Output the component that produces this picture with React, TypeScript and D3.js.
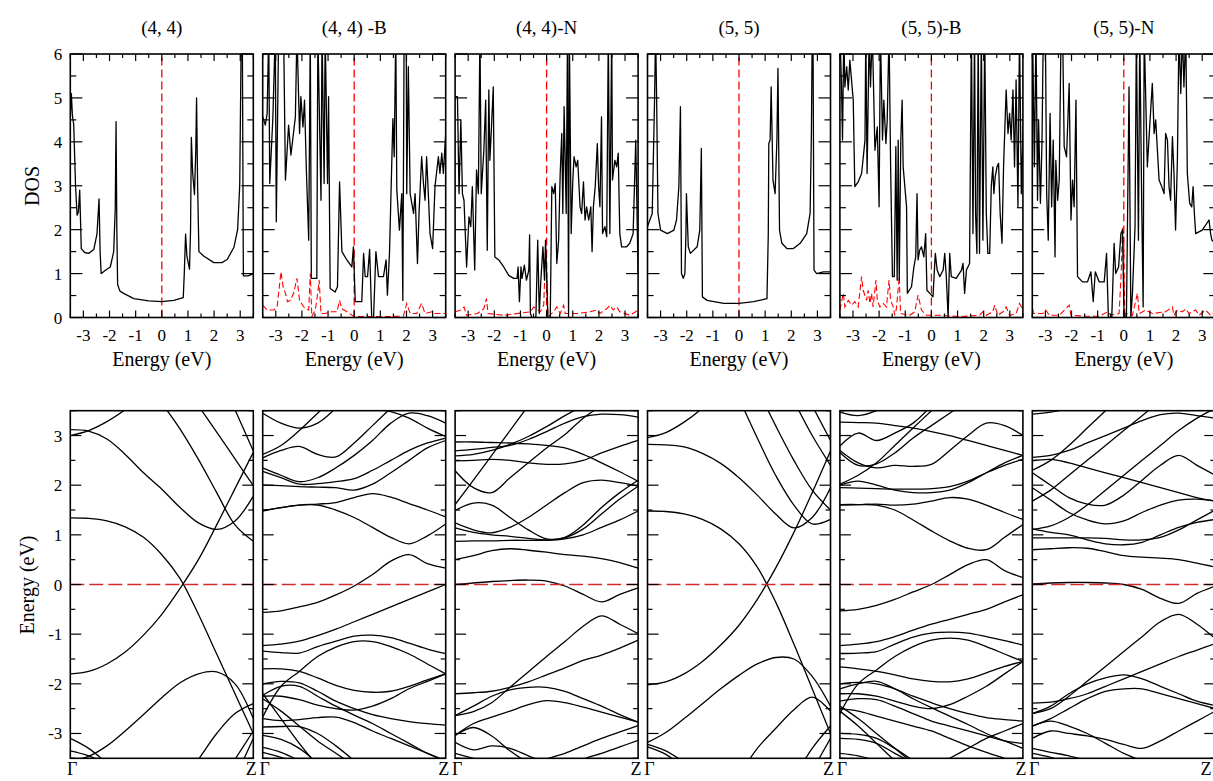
import React from 'react';
import * as d3 from 'd3';

// ---------- labels ----------
const titles = ['(4, 4)', '(4, 4) -B', '(4, 4)-N', '(5, 5)', '(5, 5)-B', '(5, 5)-N'];
const dosXTicks = [-3, -2, -1, 0, 1, 2, 3];
const dosYTicks = [0, 1, 2, 3, 4, 5, 6];
const bandYTicks = [-3, -2, -1, 0, 1, 2, 3];

// ---------- DOS data: [energy (eV), DOS] ----------
const dos44: number[][] = [
  [-3.5, 4.57], [-3.46, 5.1], [-3.42, 4.6], [-3.37, 4.4], [-3.3, 3.0], [-3.24, 2.33], [-3.19, 2.4], [-3.14, 2.9],
  [-3.08, 1.57], [-2.95, 1.48], [-2.8, 1.46], [-2.6, 1.55], [-2.48, 1.9], [-2.4, 2.7], [-2.36, 1.5], [-2.32, 1.0],
  [-2.1, 1.1], [-1.97, 1.15], [-1.84, 1.5], [-1.78, 2.5], [-1.75, 4.46], [-1.72, 2.0], [-1.69, 0.75], [-1.6, 0.6],
  [-1.46, 0.55], [-1.07, 0.43], [-0.5, 0.38], [0, 0.36], [0.46, 0.39], [0.82, 0.45], [0.86, 1.0], [0.91, 1.9],
  [0.96, 1.4], [1.06, 1.1], [1.1, 2.0], [1.13, 4.1], [1.18, 3.3], [1.25, 2.8], [1.3, 3.8], [1.33, 5.0], [1.37, 3.0],
  [1.42, 1.5], [1.6, 1.4], [1.99, 1.25], [2.3, 1.25], [2.5, 1.32], [2.76, 1.6], [2.9, 2.0], [2.98, 3.0], [3.04, 6.5],
  [3.08, 6.5], [3.12, 0.95], [3.3, 0.95], [3.5, 1.0],
];
const dos44B: number[][] = [
  [-3.5, 4.57], [-3.4, 4.38], [-3.33, 4.65], [-3.27, 6.5], [-3.23, 3.05], [-3.11, 4.57], [-3.02, 6.5], [-2.98, 2.18],
  [-2.89, 6.5], [-2.7, 6.5], [-2.63, 3.13], [-2.51, 4.38], [-2.42, 3.7], [-2.25, 4.57], [-2.19, 6.5], [-2.09, 4.19],
  [-2.04, 5.03], [-1.96, 4.34], [-1.9, 4.95], [-1.83, 3.36], [-1.74, 1.76], [-1.68, 6.5], [-1.64, 0.89], [-1.43, 0.89],
  [-1.39, 6.5], [-1.27, 2.67], [-1.23, 6.5], [-1.15, 3.05], [-1.11, 6.5], [-1.02, 3.05], [-0.98, 5.03], [-0.92, 0.66],
  [-0.73, 0.58], [-0.64, 0.7], [-0.56, 3.09], [-0.47, 1.5], [-0.28, 1.31], [-0.09, 1.15], [-0.03, 1.61], [0.04, 0.36],
  [0.29, 0.36], [0.36, 1.46], [0.42, 0.93], [0.51, 0.93], [0.59, 1.55], [0.67, 0], [0.74, 0], [0.83, 1.5], [0.93, 0.93],
  [1.12, 0.93], [1.22, 1.31], [1.27, 0.51], [1.35, 1.46], [1.48, 4.53], [1.53, 3.66], [1.59, 6.5], [1.63, 2.9],
  [1.73, 1.99], [1.82, 2.82], [1.86, 0.39], [1.91, 6.5], [1.99, 6.5], [2.01, 2.82], [2.07, 5.71], [2.14, 2.82],
  [2.27, 2.37], [2.33, 2.82], [2.42, 1.23], [2.48, 2.37], [2.58, 3.66], [2.65, 3.05], [2.71, 2.67], [2.77, 3.66],
  [2.84, 2.75], [2.9, 1.91], [3.0, 1.57], [3.09, 2.98], [3.22, 3.66], [3.28, 3.28], [3.35, 3.74], [3.41, 3.28], [3.5, 4.19],
];
const pdos44B: number[][] = [
  [-3.5, 0.28], [-3.33, 0.17], [-3.08, 0.17], [-2.95, 0.24], [-2.8, 1.04], [-2.72, 0.7], [-2.63, 0.55], [-2.55, 0.36],
  [-2.44, 0.39], [-2.32, 0.55], [-2.19, 0.89], [-2.09, 0.39], [-1.93, 0.24], [-1.74, 0.17], [-1.68, 1.0], [-1.62, 0.02],
  [-1.49, 0.17], [-1.43, 0.39], [-1.34, 0.85], [-1.27, 0.09], [-1.11, 0.09], [-0.92, 0.13], [-0.66, 0.13], [-0.56, 0.39],
  [-0.47, 0.2], [-0.28, 0.13], [0, 0.02], [1.12, 0.02], [1.88, 0.03], [2.01, 0.32], [2.14, 0.09], [2.39, 0.09],
  [2.58, 0.32], [2.71, 0.09], [2.97, 0.13], [3.09, 0.09], [3.28, 0.09], [3.5, 0.09],
];
const dos44N: number[][] = [
  [-3.5, 5.03], [-3.41, 5.03], [-3.35, 2.82], [-3.28, 4.5], [-3.22, 2.82], [-3.16, 2.67], [-3.06, 1.15], [-2.97, 2.29],
  [-2.9, 2.07], [-2.84, 2.98], [-2.75, 1.08], [-2.68, 3.36], [-2.61, 2.82], [-2.55, 6.5], [-2.5, 2.82], [-2.4, 3.81],
  [-2.33, 4.95], [-2.27, 1.53], [-2.21, 5.18], [-2.17, 3.58], [-2.12, 4.19], [-2.04, 5.25], [-1.98, 1.38], [-1.83, 1.31],
  [-1.64, 1.15], [-1.45, 0.96], [-1.26, 0.89], [-1.13, 0.89], [-1.09, 1.15], [-1.04, 0.36], [-0.98, 1.15], [-0.94, 0.89],
  [-0.85, 1.19], [-0.77, 0.85], [-0.68, 1.08], [-0.65, 1.88], [-0.62, 0.09], [-0.56, 0], [-0.41, 0], [-0.34, 1.76],
  [-0.28, 0.09], [-0.22, 0.85], [-0.14, 1.61], [-0.08, 0.85], [-0.04, 1.76], [0, 1.0], [0.05, 0], [0.14, 0], [0.2, 2.98],
  [0.27, 2.82], [0.33, 3.05], [0.39, 1.23], [0.46, 1.76], [0.52, 3.28], [0.58, 4.19], [0.62, 2.37], [0.67, 4.8],
  [0.75, 2.37], [0.8, 6.5], [0.84, 0], [0.87, 6.5], [0.94, 1.91], [1.0, 3.09], [1.05, 3.66], [1.13, 3.43], [1.19, 3.58],
  [1.28, 2.52], [1.34, 2.37], [1.41, 3.09], [1.47, 2.22], [1.53, 2.52], [1.61, 2.22], [1.69, 2.52], [1.74, 1.5],
  [1.79, 2.52], [1.86, 2.98], [1.94, 3.96], [1.99, 2.98], [2.04, 2.52], [2.1, 4.57], [2.14, 1.91], [2.23, 2.07],
  [2.3, 1.84], [2.36, 6.5], [2.42, 1.91], [2.49, 6.5], [2.52, 3.13], [2.61, 3.58], [2.68, 3.43], [2.74, 3.74],
  [2.8, 1.91], [2.87, 1.61], [3.06, 1.61], [3.18, 1.69], [3.31, 1.91], [3.41, 4.04], [3.5, 1.0],
];
const pdos44N: number[][] = [
  [-3.5, 0.13], [-3.28, 0.17], [-3.16, 0.24], [-3.06, 0.05], [-2.65, 0.09], [-2.4, 0.2], [-2.3, 0.43], [-2.24, 0.09],
  [-1.64, 0.05], [-0.62, 0.13], [-0.49, 0.24], [-0.24, 0.13], [-0.11, 0.28], [-0.05, 1.31], [-0.01, 1.46], [0.05, 0.02],
  [0.27, 0.13], [0.39, 0.24], [0.52, 0.09], [0.65, 0.28], [0.71, 0.09], [1.15, 0.09], [1.66, 0.13], [1.91, 0.17],
  [2.04, 0.09], [2.3, 0.2], [2.42, 0.28], [2.55, 0.17], [2.68, 0.24], [2.8, 0.13], [3.18, 0.05], [3.41, 0.13], [3.5, 0.2],
];
const dos55: number[][] = [
  [-3.5, 2.07], [-3.32, 2.37], [-3.23, 4.95], [-3.19, 6.5], [-3.15, 4.95], [-3.1, 2.37], [-3.0, 1.99], [-2.74, 1.91],
  [-2.49, 1.99], [-2.39, 2.22], [-2.3, 2.98], [-2.24, 4.8], [-2.2, 1.0], [-2.13, 0.89], [-2.07, 1.0], [-2.03, 1.91],
  [-2.01, 2.82], [-1.94, 1.61], [-1.86, 1.46], [-1.6, 1.61], [-1.5, 1.99], [-1.44, 3.85], [-1.4, 0.47], [-1.22, 0.39],
  [-0.58, 0.32], [0, 0.32], [0.56, 0.36], [1.07, 0.43], [1.12, 1.9], [1.14, 3.96], [1.19, 4.04], [1.23, 5.25],
  [1.3, 3.13], [1.38, 2.82], [1.45, 4.04], [1.49, 5.67], [1.55, 1.99], [1.64, 1.69], [1.83, 1.57], [2.08, 1.57],
  [2.34, 1.69], [2.59, 1.91], [2.72, 2.37], [2.77, 4.2], [2.8, 6.5], [2.83, 6.5], [2.87, 1.08], [2.97, 1.0],
  [3.23, 1.04], [3.5, 1.04],
];
const dos55B: number[][] = [
  [-3.5, 6.5], [-3.44, 5.33], [-3.4, 4.04], [-3.35, 6.5], [-3.31, 5.25], [-3.24, 5.71], [-3.18, 5.18], [-3.12, 5.86],
  [-2.99, 4.95], [-2.93, 2.98], [-2.8, 3.09], [-2.67, 3.28], [-2.54, 4.04], [-2.51, 6.5], [-2.46, 3.28], [-2.38, 6.5],
  [-2.33, 5.25], [-2.26, 6.5], [-2.16, 3.81], [-2.07, 4.34], [-2.0, 2.52], [-1.95, 6.5], [-1.87, 4.04], [-1.82, 4.95],
  [-1.74, 3.96], [-1.69, 4.5], [-1.62, 6.5], [-1.56, 3.43], [-1.49, 0.93], [-1.42, 0.93], [-1.36, 3.89], [-1.31, 0.85],
  [-1.27, 4.04], [-1.23, 0.85], [-1.17, 4.04], [-1.12, 4.95], [-1.08, 3.43], [-0.95, 2.52], [-0.92, 0.55], [-0.76, 0.7],
  [-0.67, 1.15], [-0.6, 1.38], [-0.55, 2.82], [-0.51, 1.31], [-0.45, 1.53], [-0.38, 1.61], [-0.29, 1.38], [-0.22, 1.91],
  [-0.17, 0.62], [-0.06, 0.55], [0.06, 0.47], [0.15, 1.46], [0.22, 1.08], [0.32, 0.93], [0.45, 1.08], [0.51, 1.46],
  [0.57, 0.93], [0.64, 0], [0.7, 1.46], [0.76, 0.93], [0.95, 0.89], [1.15, 1.08], [1.21, 1.23], [1.27, 0.55],
  [1.34, 1.08], [1.46, 1.23], [1.53, 6.5], [1.59, 1.91], [1.65, 6.5], [1.69, 2.37], [1.74, 1.46], [1.79, 6.5],
  [1.84, 1.46], [1.91, 6.5], [1.97, 1.76], [2.04, 6.5], [2.1, 2.37], [2.16, 1.46], [2.23, 1.46], [2.29, 2.98],
  [2.35, 3.43], [2.39, 2.82], [2.44, 3.2], [2.51, 3.43], [2.57, 3.51], [2.63, 2.37], [2.7, 1.69], [2.76, 3.43],
  [2.86, 5.18], [2.93, 4.19], [2.99, 4.65], [3.05, 4.04], [3.12, 5.18], [3.18, 3.43], [3.24, 5.41], [3.31, 2.52],
  [3.37, 6.5], [3.44, 2.82], [3.5, 4.19],
];
const pdos55B: number[][] = [
  [-3.5, 0.17], [-3.37, 0.55], [-3.31, 0.24], [-3.18, 0.39], [-3.05, 0.28], [-2.93, 0.36], [-2.8, 0.24], [-2.67, 0.93],
  [-2.61, 0.62], [-2.48, 0.39], [-2.42, 0.62], [-2.35, 0.32], [-2.29, 0.55], [-2.23, 0.24], [-2.12, 0.85], [-2.07, 0.39],
  [-1.97, 0.24], [-1.84, 0.32], [-1.72, 0.24], [-1.62, 0.85], [-1.56, 0.39], [-1.46, 0.24], [-1.4, 0.05], [-1.34, 0.2],
  [-1.23, 0.93], [-1.18, 0.09], [-0.83, 0.05], [-0.64, 0.13], [-0.51, 0.51], [-0.38, 0.17], [-0.19, 0.05], [0.32, 0.05],
  [1.08, 0.02], [1.84, 0.05], [1.97, 0.13], [2.1, 0.05], [2.35, 0.13], [2.42, 0.28], [2.54, 0.05], [2.74, 0.13],
  [2.86, 0.24], [2.99, 0.05], [3.24, 0.09], [3.37, 0.32], [3.5, 0.17],
];
const dos55N: number[][] = [
  [-3.52, 3.43], [-3.49, 6.5], [-3.42, 3.43], [-3.36, 6.5], [-3.3, 2.67], [-3.26, 4.5], [-3.19, 2.6], [-3.13, 3.96],
  [-3.08, 6.5], [-3.0, 6.5], [-2.95, 2.82], [-2.89, 1.76], [-2.82, 4.65], [-2.76, 2.52], [-2.7, 4.04], [-2.63, 1.38],
  [-2.6, 3.58], [-2.53, 2.67], [-2.47, 3.13], [-2.4, 6.5], [-2.34, 6.5], [-2.28, 3.89], [-2.19, 3.66], [-2.09, 5.33],
  [-2.02, 2.22], [-1.96, 3.13], [-1.9, 2.52], [-1.83, 4.95], [-1.77, 0.93], [-1.58, 0.81], [-1.39, 0.81], [-1.26, 1.04],
  [-1.17, 0.36], [-1.09, 1.04], [-0.94, 0.81], [-0.75, 0.81], [-0.66, 1.46], [-0.59, 0], [-0.46, 0], [-0.37, 1.69],
  [-0.31, 1.0], [-0.2, 1.15], [-0.11, 1.91], [-0.05, 1.99], [0.01, 0], [0.1, 0], [0.2, 5.25], [0.27, 0], [0.33, 0.55],
  [0.43, 2.07], [0.48, 6.5], [0.56, 1.76], [0.61, 6.5], [0.69, 2.37], [0.74, 0.24], [0.78, 6.5], [0.9, 3.43],
  [0.99, 4.34], [1.09, 5.33], [1.16, 4.19], [1.22, 4.5], [1.35, 3.13], [1.45, 2.98], [1.54, 2.82], [1.6, 4.19],
  [1.67, 4.04], [1.73, 2.98], [1.79, 2.67], [1.86, 4.12], [1.92, 3.28], [1.98, 1.99], [2.05, 3.58], [2.11, 6.5],
  [2.18, 5.1], [2.24, 6.5], [2.3, 5.25], [2.37, 6.5], [2.43, 3.28], [2.52, 2.6], [2.6, 2.52], [2.65, 2.98],
  [2.7, 2.37], [2.75, 1.91], [3.0, 1.99], [3.26, 2.22], [3.32, 1.91], [3.37, 1.76], [3.5, 1.7],
];
const pdos55N: number[][] = [
  [-3.52, 0.39], [-3.46, 0.09], [-3.1, 0.09], [-2.98, 0.17], [-2.85, 0.05], [-2.47, 0.05], [-2.09, 0.28], [-2.02, 0.05],
  [-1.45, 0.03], [-0.94, 0.03], [-0.62, 0.13], [-0.5, 0.05], [-0.18, 0.09], [-0.1, 1.0], [-0.05, 2.07], [-0.01, 1.91],
  [0.04, 0], [0.08, 0.09], [0.33, 0.05], [0.52, 0.55], [0.59, 0.09], [0.84, 0.17], [1.09, 0.09], [1.6, 0.13],
  [1.86, 0.24], [1.92, 0.05], [2.05, 0.17], [2.24, 0.13], [2.37, 0.2], [2.49, 0.09], [2.62, 0.13], [2.75, 0.17],
  [2.88, 0.05], [3.13, 0.17], [3.32, 0.05], [3.5, 0.13],
];

const dosTotals = [dos44, dos44B, dos44N, dos55, dos55B, dos55N];
const dosPartials: (number[][] | null)[] = [null, pdos44B, pdos44N, null, pdos55B, pdos55N];

// ---------- band data: energies (eV) at k = 0, 0.1, ..., 1 (Γ -> Z); null = not drawn ----------
type B = (number | null)[];
const N = null;
const bands44: B[] = [
  [3.0, 3.1, 3.28, 3.52, 3.8],
  [3.12, 3.09, 2.93, 2.62, 2.25, 1.92, 1.55, 1.24, 1.11, 1.28, 1.78],
  [N, N, N, N, N, 3.65, 3.13, 2.52, 1.85, 1.2, 0.87],
  [N, N, N, N, N, N, N, 3.6, 3.07, 2.53, 1.99],
  [N, N, N, N, N, N, N, N, 4.35, 3.52, 2.69],
  [-1.8, -1.75, -1.6, -1.36, -1.02, -0.6, -0.08, 0.5, 1.2, 1.93, 2.66],
  [1.34, 1.33, 1.28, 1.16, 0.95, 0.6, 0.12, -0.6, -1.4, -2.2, -3.0],
  [-3.55, -3.46, -3.25, -2.95, -2.62, -2.28, -1.98, -1.8, -1.76, -2.0, -2.7],
  [N, N, N, N, N, N, -4.0, -3.52, -3.0, -2.6, -2.4],
  [N, N, N, N, N, N, N, N, -4.1, -3.52, -2.95],
  [N, N, N, N, N, N, N, N, N, -3.9, -3.1],
  [-3.1, -3.3, -3.6],
  [-3.35, -3.45, -3.62],
];
const bands44B: B[] = [
  [-0.56, -0.53, -0.45, -0.36, -0.21, -0.03, 0.2, 0.47, 0.6, 0.42, 0.33],
  [1.49, 1.55, 1.6, 1.6, 1.5, 1.35, 1.15, 0.95, 0.82, 0.98, 1.22],
  [1.48, 1.55, 1.6, 1.62, 1.65, 1.75, 1.83, 1.76, 1.63, 1.5, 1.36],
  [3.45, 3.25, 3.15, 3.25, 3.55, 3.9],
  [2.62, 2.8, 3.1, 3.45, 3.8],
  [2.55, 2.7, 2.78, 2.62, 2.57, 2.85, 3.2, 3.55, 3.9],
  [2.35, 2.2, 2.07, 2.15, 2.35, 2.6, 2.9, 3.25, 3.45, 3.4, 3.25],
  [2.28, 2.15, 2.02, 2.03, 2.07, 2.13, 2.3, 2.5, 2.7, 2.85, 2.95],
  [2.0, 1.99, 1.97, 1.96, 1.95, 1.9, 2.02, 2.25, 2.5, 2.75, 2.9],
  [N, N, N, N, N, 3.8, 3.55, 3.48, 3.35, 3.15, 2.98],
  [-1.23, -1.2, -1.14, -1.03, -0.9, -0.75, -0.6, -0.45, -0.3, -0.15, 0.0],
  [-1.34, -1.37, -1.38, -1.25, -1.14, -1.04, -1.02, -1.07, -1.18, -1.3, -1.39],
  [-2.67, -2.05, -1.75, -1.45, -1.26, -1.15, -1.15, -1.25, -1.4, -1.6, -1.8],
  [-1.7, -1.7, -1.75, -1.88, -2.03, -2.13, -2.17, -2.15, -2.05, -1.92, -1.8],
  [-2.0, -1.95, -1.98, -2.15, -2.35, -2.5, -2.62, -2.7, -2.76, -2.8, -2.83],
  [-2.23, -2.05, -2.05, -2.25, -2.45, -2.63, -2.8, -3.0, -3.2, -3.4, -3.55],
  [-2.25, -2.25, -2.32, -2.43, -2.5, -2.53, -2.45, -2.3, -2.1, -1.95, -1.8],
  [-2.7, -2.74, -2.72, -2.68, -2.67, -2.78, -2.95, -3.1, -3.25, -3.4, -3.55],
  [-2.87, -2.86, -2.86, -3.0, -3.25, -3.55],
  [-2.2, -2.7, -3.2, -3.65],
  [-3.04, -3.12, -3.3, -3.6],
  [-3.28, -3.38, -3.55],
  [-3.38, -3.48, -3.6],
  [-2.3, -2.55, -2.85, -3.15, -3.4, -3.65],
];
const bands44N: B[] = [
  [0.0, 0.03, 0.06, 0.08, 0.09, 0.07, -0.03, -0.2, -0.35, -0.2, -0.07],
  [0.5, 0.58, 0.68, 0.72, 0.69, 0.65, 0.6, 0.57, 0.52, 0.44, 0.33],
  [0.87, 0.88, 0.88, 0.89, 0.89, 0.89, 0.92, 1.0, 1.15, 1.3, 1.48],
  [1.14, 1.05, 1.0, 0.97, 0.93, 0.9, 0.94, 1.12, 1.42, 1.72, 1.98],
  [1.24, 1.1, 1.04, 1.15, 1.35, 1.6, 1.85, 2.05, 2.1, 2.05, 1.98],
  [1.61, 2.1, 2.6, 3.1, 3.6],
  [1.49, 1.64, 1.6, 1.35, 1.1, 0.92, 0.95, 1.2, 1.55, 1.85, 2.1],
  [2.29, 1.95, 1.85, 2.15, 2.45, 2.75, 3.02, 3.35, 3.6],
  [2.87, 2.87, 2.86, 2.85, 2.83, 2.8, 2.75, 2.62, 2.45, 2.27, 2.08],
  [2.69, 2.72, 2.76, 2.8, 2.92, 3.08, 3.25, 3.38, 3.43, 3.42, 3.37],
  [2.59, 2.62, 2.7, 2.82, 2.98, 3.18, 3.4, 3.6],
  [2.49, 2.5, 2.52, 2.5, 2.45, 2.42, 2.43, 2.5, 2.65, 2.78, 2.9],
  [-2.2, -2.18, -2.15, -2.07, -1.96, -1.82, -1.68, -1.53, -1.42, -1.28, -1.12],
  [-2.64, -2.56, -2.38, -2.07, -1.76, -1.45, -1.15, -0.84, -0.63, -0.8, -0.99],
  [-2.64, -2.45, -2.25, -2.12, -2.07, -2.07, -2.15, -2.3, -2.45, -2.62, -2.77],
  [-3.04, -2.8, -2.67, -2.55, -2.42, -2.34, -2.38, -2.47, -2.57, -2.67, -2.77],
  [-3.04, -2.88, -3.05, -3.35, -3.6],
  [-3.18, -3.33, -3.25, -3.3, -3.45, -3.6],
  [N, N, N, N, -3.75, -3.52, -3.4, -3.25, -3.1, -2.97, -2.84],
  [N, N, N, N, N, N, -3.75, -3.52, -3.4, -3.27, -3.14],
  [-3.4, -3.5, -3.6],
];
const bands55: B[] = [
  [2.96, 3.06, 3.27, 3.55, 3.9],
  [2.82, 2.81, 2.77, 2.64, 2.44, 2.15, 1.8, 1.42, 1.14, 1.35, 1.95],
  [N, N, N, N, N, 3.75, 2.95, 2.2, 1.6, 1.22, 1.31],
  [N, N, N, N, N, N, 3.95, 3.2, 2.5, 1.9, 1.5],
  [N, N, N, N, N, N, N, N, 3.7, 3.0, 2.4],
  [N, N, N, N, N, N, N, N, N, 3.6, 2.9],
  [-2.02, -1.96, -1.8, -1.55, -1.22, -0.82, -0.3, 0.33, 1.05, 1.85, 2.69],
  [1.48, 1.47, 1.42, 1.31, 1.12, 0.82, 0.35, -0.35, -1.2, -2.1, -3.0],
  [-3.18, -2.98, -2.7, -2.4, -2.1, -1.83, -1.6, -1.47, -1.5, -1.85, -2.45],
  [N, N, N, N, N, -3.85, -3.3, -2.9, -2.52, -2.27, -2.55],
  [N, N, N, N, N, N, N, N, -3.9, -3.3, -2.85],
  [N, N, N, N, N, N, N, N, N, -3.75, -3.1],
  [-3.22, -3.35, -3.58],
  [-3.27, -3.42, -3.7],
];
const bands55B: B[] = [
  [-0.53, -0.5, -0.42, -0.3, -0.15, 0.0, 0.2, 0.4, 0.5, 0.28, 0.14],
  [1.61, 1.61, 1.6, 1.5, 1.3, 1.08, 0.88, 0.73, 0.7, 0.95, 1.21],
  [1.6, 1.61, 1.62, 1.6, 1.62, 1.68, 1.75, 1.72, 1.6, 1.45, 1.31],
  [1.95, 1.94, 1.93, 1.92, 1.92, 1.93, 1.97, 2.08, 2.25, 2.4, 2.52],
  [2.0, 2.08, 2.0, 1.9, 1.85, 1.85, 1.9, 2.05, 2.25, 2.45, 2.6],
  [3.47, 3.4, 3.5, 3.7],
  [3.27, 3.26, 3.25, 3.2, 3.15, 3.08, 3.0, 2.9, 2.8, 2.7, 2.6],
  [2.79, 3.05, 2.9, 3.05, 3.25, 3.6],
  [2.66, 2.4, 2.43, 2.65, 2.95, 3.2, 3.45, 3.7],
  [2.7, 2.45, 2.35, 2.4, 2.38, 2.42, 2.7, 3.0, 3.25, 3.2, 3.0],
  [2.02, 2.2, 2.45, 2.8, 3.15, 3.5, 3.85],
  [-1.23, -1.2, -1.15, -1.05, -0.92, -0.8, -0.7, -0.6, -0.5, -0.35, -0.21],
  [-1.39, -1.38, -1.35, -1.2, -1.06, -0.98, -0.96, -0.98, -1.05, -1.13, -1.22],
  [-2.6, -2.0, -1.72, -1.45, -1.25, -1.12, -1.08, -1.12, -1.25, -1.4, -1.55],
  [-1.66, -1.7, -1.75, -1.82, -1.9, -1.95, -1.96, -1.9, -1.78, -1.65, -1.55],
  [-2.0, -1.97, -2.0, -2.1, -2.25, -2.38, -2.5, -2.6, -2.68, -2.72, -2.75],
  [-2.1, -2.0, -1.95, -2.1, -2.3, -2.48, -2.65, -2.82, -3.0, -3.15, -3.3],
  [-2.2, -2.2, -2.25, -2.35, -2.45, -2.5, -2.42, -2.25, -2.05, -1.8, -1.55],
  [-2.35, -2.3, -2.32, -2.45, -2.6, -2.75, -2.85, -2.95, -3.05, -3.15, -3.2],
  [-2.5, -2.55, -2.65, -2.75, -2.85, -2.95, -3.1, -3.25, -3.38, -3.5, -3.6],
  [-2.55, -2.85, -3.2, -3.55],
  [-2.45, -2.7, -3.0, -3.3, -3.6],
  [-3.0, -3.02, -3.1, -3.3, -3.55],
  [-3.1, -3.12, -3.2, -3.4, -3.6],
  [-3.4, -3.45, -3.55],
  [N, N, N, N, N, -3.7, -3.5, -3.3, -3.1, -2.95, -2.8],
];
const bands55N: B[] = [
  [0.01, 0.03, 0.04, 0.04, 0.03, 0.0, -0.1, -0.28, -0.38, -0.18, -0.03],
  [0.7, 0.72, 0.74, 0.73, 0.66, 0.58, 0.55, 0.53, 0.5, 0.43, 0.35],
  [0.94, 0.94, 0.94, 0.94, 0.93, 0.9, 0.9, 0.95, 1.1, 1.3, 1.5],
  [1.11, 1.18, 1.35, 1.6, 1.9, 2.2, 2.5, 2.8, 3.1, 3.35, 3.55],
  [1.12, 1.05, 1.0, 0.9, 0.82, 0.8, 0.85, 1.0, 1.15, 1.25, 1.31],
  [1.95, 1.7, 1.45, 1.3, 1.22, 1.28, 1.45, 1.6, 1.7, 1.72, 1.68],
  [1.68, 1.9, 2.2, 2.5, 2.8, 3.1, 3.4, 3.7],
  [2.25, 2.0, 1.75, 1.62, 1.6, 1.8, 2.1, 2.4, 2.6, 2.4, 2.2],
  [2.49, 2.52, 2.45, 2.35, 2.25, 2.15, 2.05, 1.95, 1.85, 1.75, 1.68],
  [2.56, 2.6, 2.7, 2.85, 3.0, 3.15, 3.3, 3.42, 3.45, 3.4, 3.35],
  [3.43, 3.47, 3.55],
  [2.3, 2.5, 2.8, 3.15, 3.5],
  [-2.39, -2.37, -2.3, -2.2, -2.05, -1.9, -1.75, -1.6, -1.45, -1.32, -1.19],
  [-2.6, -2.5, -2.25, -1.95, -1.65, -1.35, -1.05, -0.75, -0.6, -0.8, -1.09],
  [-2.6, -2.45, -2.2, -2.0, -1.88, -1.82, -1.9, -2.05, -2.2, -2.35, -2.44],
  [-2.85, -2.7, -2.5, -2.3, -2.15, -2.1, -2.1, -2.2, -2.3, -2.4, -2.5],
  [-2.85, -2.75, -2.85, -3.0, -3.2, -3.4, -3.55],
  [-3.1, -2.95, -3.0, -3.05, -3.12, -3.22, -3.3, -3.15, -2.95, -2.75, -2.55],
  [-3.3, -3.38, -3.45, -3.55],
  [-3.4, -3.48, -3.6],
];
const bandSets = [bands44, bands44B, bands44N, bands55, bands55B, bands55N];

// ---------- layout ----------
const W = 1213;
const H = 781;
const panelLeft = [70.3, 262.7, 455.1, 647.5, 839.9, 1032.3];
const panelW = 183;
const topY0 = 54;
const topY1 = 317.5;
const botY0 = 410.7;
const botY1 = 758.3;
const FONT = "'Liberation Serif', 'DejaVu Serif', serif";

const range = (a: number, b: number, s: number) => d3.range(a, b + 1e-9, s);

function DosPanel({ i }: { i: number }) {
  const x0 = panelLeft[i];
  const x = d3.scaleLinear().domain([-3.5, 3.5]).range([x0, x0 + panelW]);
  const y = d3.scaleLinear().domain([0, 6]).range([topY1, topY0]);
  const line = d3.line<number[]>().x(d => x(d[0])).y(d => y(d[1]));
  const clip = `clipDos${i}`;
  const minorX = range(-3.5, 3.5, 0.5).filter(v => !dosXTicks.includes(v));
  const minorY = range(0.5, 5.5, 1);
  const partial = dosPartials[i];
  return (
    <g>
      <defs>
        <clipPath id={clip}><rect x={x0} y={topY0} width={panelW} height={topY1 - topY0} /></clipPath>
      </defs>
      <g clipPath={`url(#${clip})`}>
        <line x1={x(0)} x2={x(0)} y1={topY1} y2={topY0} stroke="#ff0000" strokeWidth={1.3} strokeDasharray="8,4" />
        {partial && <path d={line(partial) || ''} fill="none" stroke="#ff0000" strokeWidth={1.1} strokeDasharray="6,3" />}
        <path d={line(dosTotals[i]) || ''} fill="none" stroke="#000" strokeWidth={1.3} strokeLinejoin="round" />
      </g>
      {dosXTicks.map(t => (
        <g key={'mx' + t}>
          <line x1={x(t)} x2={x(t)} y1={topY1} y2={topY1 - 7} stroke="#000" strokeWidth={1.2} />
          <line x1={x(t)} x2={x(t)} y1={topY0} y2={topY0 + 7} stroke="#000" strokeWidth={1.2} />
          <text x={x(t)} y={341} textAnchor="middle" fontSize={17} fontFamily={FONT}>{t < 0 ? '-' + Math.abs(t) : t}</text>
        </g>
      ))}
      {minorX.map(t => (
        <g key={'nx' + t}>
          <line x1={x(t)} x2={x(t)} y1={topY1} y2={topY1 - 4} stroke="#000" strokeWidth={1.2} />
          <line x1={x(t)} x2={x(t)} y1={topY0} y2={topY0 + 4} stroke="#000" strokeWidth={1.2} />
        </g>
      ))}
      {dosYTicks.map(t => (
        <g key={'my' + t}>
          <line x1={x0} x2={x0 + 12} y1={y(t)} y2={y(t)} stroke="#000" strokeWidth={1.2} />
          <line x1={x0 + panelW} x2={x0 + panelW - 12} y1={y(t)} y2={y(t)} stroke="#000" strokeWidth={1.2} />
          {i === 0 && <text x={x0 - 8} y={y(t) + 6} textAnchor="end" fontSize={17} fontFamily={FONT}>{t}</text>}
        </g>
      ))}
      {minorY.map(t => (
        <g key={'ny' + t}>
          <line x1={x0} x2={x0 + 6} y1={y(t)} y2={y(t)} stroke="#000" strokeWidth={1.2} />
          <line x1={x0 + panelW} x2={x0 + panelW - 6} y1={y(t)} y2={y(t)} stroke="#000" strokeWidth={1.2} />
        </g>
      ))}
      <rect x={x0} y={topY0} width={panelW} height={topY1 - topY0} fill="none" stroke="#000" strokeWidth={1.6} />
      <text x={x0 + panelW / 2} y={34} textAnchor="middle" fontSize={19} fontFamily={FONT}>{titles[i]}</text>
      <text x={x0 + panelW / 2} y={366} textAnchor="middle" fontSize={20} fontFamily={FONT}>Energy (eV)</text>
    </g>
  );
}

function BandPanel({ i }: { i: number }) {
  const x0 = panelLeft[i];
  const x = d3.scaleLinear().domain([0, 1]).range([x0, x0 + panelW]);
  const y = d3.scaleLinear().domain([-3.5, 3.5]).range([botY1, botY0]);
  const line = d3.line<[number, number | null]>()
    .defined(d => d[1] !== null)
    .x(d => x(d[0]))
    .y(d => y(d[1] as number))
    .curve(d3.curveCatmullRom.alpha(0.5));
  const clip = `clipBand${i}`;
  const minorY = range(-3.5, 3.5, 0.5).filter(v => !bandYTicks.includes(v));
  const zX = i < 5 ? x0 + panelW - 2 : W - 7;
  return (
    <g>
      <defs>
        <clipPath id={clip}><rect x={x0} y={botY0} width={panelW} height={botY1 - botY0} /></clipPath>
      </defs>
      <g clipPath={`url(#${clip})`}>
        {bandSets[i].map((b, j) => (
          <path key={j} d={line(b.map((v, k) => [k / 10, v] as [number, number | null])) || ''}
            fill="none" stroke="#000" strokeWidth={1.3} />
        ))}
        <line x1={x0} x2={x0 + panelW} y1={y(0)} y2={y(0)} stroke="#d42a2a" strokeWidth={1.4} strokeDasharray="14,5" />
      </g>
      {bandYTicks.map(t => (
        <g key={'my' + t}>
          <line x1={x0} x2={x0 + 11} y1={y(t)} y2={y(t)} stroke="#000" strokeWidth={1.2} />
          <line x1={x0 + panelW} x2={x0 + panelW - 11} y1={y(t)} y2={y(t)} stroke="#000" strokeWidth={1.2} />
          {i === 0 && <text x={x0 - 8} y={y(t) + 6} textAnchor="end" fontSize={17} fontFamily={FONT}>{t < 0 ? '-' + Math.abs(t) : t}</text>}
        </g>
      ))}
      {minorY.map(t => (
        <g key={'ny' + t}>
          <line x1={x0} x2={x0 + 5} y1={y(t)} y2={y(t)} stroke="#000" strokeWidth={1.2} />
          <line x1={x0 + panelW} x2={x0 + panelW - 5} y1={y(t)} y2={y(t)} stroke="#000" strokeWidth={1.2} />
        </g>
      ))}
      <rect x={x0} y={botY0} width={panelW} height={botY1 - botY0} fill="none" stroke="#000" strokeWidth={1.6} />
      <text x={x0 + 2} y={775} textAnchor="middle" fontSize={18} fontFamily={FONT}>Γ</text>
      <text x={zX} y={775} textAnchor="middle" fontSize={18} fontFamily={FONT}>Z</text>
    </g>
  );
}

export default function App() {
  return (
    <svg width={W} height={H} style={{ position: 'absolute', left: 0, top: 0, background: '#fff' }}>
      <rect x={0} y={0} width={W} height={H} fill="#fff" />
      {panelLeft.map((_, i) => <DosPanel key={'d' + i} i={i} />)}
      {panelLeft.map((_, i) => <BandPanel key={'b' + i} i={i} />)}
      <text transform={`translate(39,186) rotate(-90)`} textAnchor="middle" fontSize={20} fontFamily={FONT}>DOS</text>
      <text transform={`translate(34,585) rotate(-90)`} textAnchor="middle" fontSize={20} fontFamily={FONT}>Energy (eV)</text>
    </svg>
  );
}
